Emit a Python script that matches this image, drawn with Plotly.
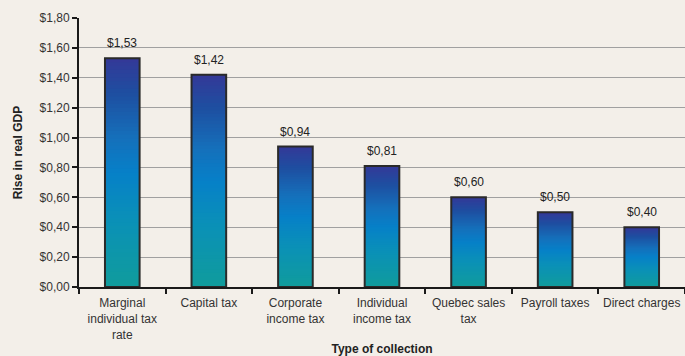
import plotly.graph_objects as go
import numpy as np

categories = ["Marginal<br>individual tax<br>rate", "Capital tax", "Corporate<br>income tax",
              "Individual<br>income tax", "Quebec sales<br>tax", "Payroll taxes", "Direct charges"]
values = [1.53, 1.42, 0.94, 0.81, 0.60, 0.50, 0.40]
y_ticks = [0, 0.2, 0.4, 0.6, 0.8, 1.0, 1.2, 1.4, 1.6, 1.8]
y_tick_labels = ["$0,00", "$0,20", "$0,40", "$0,60", "$0,80", "$1,00", "$1,20", "$1,40", "$1,60", "$1,80"]
value_labels = ["$1,53", "$1,42", "$0,94", "$0,81", "$0,60", "$0,50", "$0,40"]

# gradient stops (fraction of bar height from bottom -> colour)
stops = [(0.0, (16, 156, 156)), (0.3, (10, 144, 184)), (0.5, (6, 128, 200)),
         (0.65, (21, 112, 187)), (0.85, (30, 78, 160)), (1.0, (52, 56, 152))]

def colour_at(t):
    for (t0, c0), (t1, c1) in zip(stops[:-1], stops[1:]):
        if t <= t1:
            f = (t - t0) / (t1 - t0)
            c = [round(a + (b - a) * f) for a, b in zip(c0, c1)]
            return "rgb(%d,%d,%d)" % tuple(c)
    return "rgb(%d,%d,%d)" % stops[-1][1]

FONT = "Liberation Sans, Arial"
N = 60
fig = go.Figure()
vals = np.array(values)
for k in range(N):
    t = (k + 0.5) / N
    fig.add_trace(go.Bar(
        x=categories, y=vals * (1 - k / N), base=vals * k / N,
        marker=dict(color=colour_at(t), line=dict(width=0)),
        width=0.4, showlegend=False, hoverinfo="skip",
    ))
# outline
fig.add_trace(go.Bar(
    x=categories, y=values, width=0.4,
    marker=dict(color="rgba(0,0,0,0)", line=dict(color="#2a2a2a", width=2)),
    showlegend=False,
))
for c, v, lab in zip(categories, values, value_labels):
    fig.add_annotation(x=c, y=v, text=lab, showarrow=False, yanchor="bottom", yshift=6,
                       font=dict(family=FONT, size=12, color="#222222"))

fig.update_layout(
    barmode="overlay",
    width=685, height=356,
    margin=dict(l=79, r=0, t=18, b=69),
    paper_bgcolor="#f3efe9", plot_bgcolor="#f3efe9",
    font=dict(family=FONT, size=12, color="#333333"),
    xaxis=dict(
        automargin=False, tickangle=0, ticklabelstandoff=4,
        showline=True, linecolor="#1a1a1a", linewidth=2,
        ticks="outside", ticklen=5, tickwidth=2, tickcolor="#1a1a1a",
        tickson="boundaries", showgrid=False,
        title=dict(text="<b>Type of collection</b>", font=dict(size=12, color="#222222"), standoff=10),
    ),
    yaxis=dict(
        automargin=False,
        range=[0, 1.8], tickvals=y_ticks, ticktext=y_tick_labels,
        showline=True, linecolor="#1a1a1a", linewidth=2,
        ticks="outside", ticklen=5, tickwidth=2, tickcolor="#1a1a1a",
        showgrid=True, gridcolor="#a0a0a0", gridwidth=1, zeroline=False,
        title=dict(text="<b>Rise in real GDP</b>", font=dict(size=12, color="#222222"), standoff=14),
    ),
)
fig.write_html("out.html", config={"responsive": False, "displayModeBar": False},
               post_script="document.body.style.margin='0';document.body.style.overflow='hidden';")
